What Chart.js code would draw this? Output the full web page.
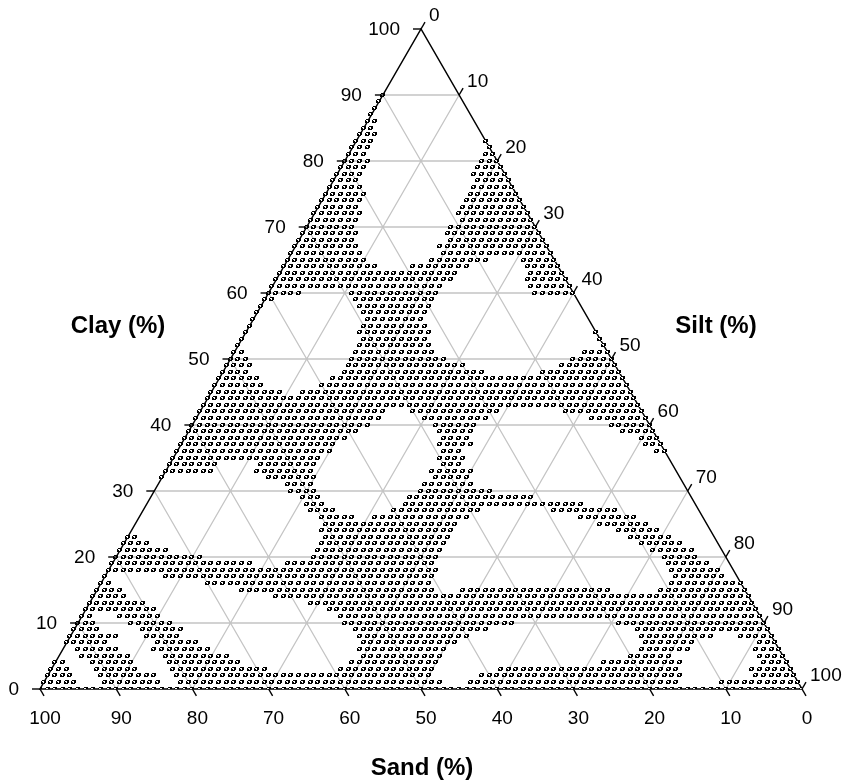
<!DOCTYPE html>
<html>
<head>
<meta charset="utf-8">
<script src="https://cdn.jsdelivr.net/npm/chart.js@4.4.0/dist/chart.umd.min.js"></script>
<style>
  html, body { margin: 0; padding: 0; background: #ffffff; }
  canvas { display: block; }
</style>
</head>
<body>
<canvas id="tern" width="844" height="783"></canvas>
<script>
// Axis tick values (percent) shared by the three ternary axes
const tickValues = [0, 10, 20, 30, 40, 50, 60, 70, 80, 90, 100];

// Axis titles
const clayTitle = 'Clay (%)';
const siltTitle = 'Silt (%)';
const sandTitle = 'Sand (%)';

// Sample compositions on a 1 % grid, stored row by row.
// clayRows[i] is the clay content of the row; siltRuns[i] lists the
// inclusive silt ranges [from, to] occupied in that row (sand = 100 - clay - silt).
const clayRows = [
  0, 1, 2, 3, 4, 5, 6, 7, 8, 9,
  10, 11, 12, 13, 14, 15, 16, 17, 18, 19,
  20, 21, 22, 23, 24, 25, 26, 27, 28, 29,
  30, 31, 32, 33, 34, 35, 36, 37, 38, 39,
  40, 41, 42, 43, 44, 45, 46, 47, 48, 49,
  50, 51, 52, 53, 54, 55, 56, 57, 58, 59,
  60, 61, 62, 63, 64, 65, 66, 67, 68, 69,
  70, 71, 72, 73, 74, 75, 76, 77, 78, 79,
  80, 81, 82, 83, 84, 85, 86, 87, 88, 89, 90
];

const siltRuns = [
  [[0,100]],
  [[0,4],[8,15],[18,52],[56,83],[89,99]],
  [[0,3],[7,14],[17,50],[57,83],[93,98]],
  [[0,2],[6,11],[16,28],[38,50],[59,82],[92,97]],
  [[0,1],[5,10],[15,24],[39,50],[72,82],[93,96]],
  [[3,9],[14,22],[40,50],[75,80],[92,95]],
  [[2,7],[12,19],[39,50],[76,82],[91,94]],
  [[0,5],[12,17],[39,51],[76,82],[91,93]],
  [[0,6],[10,14],[38,52],[75,84],[88,92]],
  [[0,3],[9,14],[37,54],[74,91]],
  [[0,2],[7,12],[35,57],[71,90]],
  [[0,1],[5,10],[34,89]],
  [[0,9],[32,88]],
  [[0,7],[29,87]],
  [[0,4],[24,86]],
  [[0,3],[19,44],[48,67],[74,85]],
  [[0,1],[14,43],[75,84]],
  [[0,0],[8,43],[75,81]],
  [[0,43],[74,80]],
  [[0,18],[23,42],[73,78]],
  [[0,11],[26,42],[72,76]],
  [[0,6],[26,42],[70,75]],
  [[0,3],[26,42],[68,73]],
  [[0,1],[26,42],[66,71]],
  [[25,42],[64,69]],
  [[25,42],[61,67]],
  [[24,28],[31,43],[58,65]],
  [[22,25],[33,44],[54,62]],
  [[21,23],[34,57]],
  [[20,22],[34,50]],
  [[18,21],[35,44]],
  [[17,20],[35,41]],
  [[0,0],[14,20],[36,40]],
  [[0,6],[12,19],[35,40]],
  [[0,6],[12,19],[36,38]],
  [[0,19],[35,38]],
  [[0,20],[35,37],[63,64]],
  [[0,20],[34,38],[61,63]],
  [[0,21],[34,37],[60,62]],
  [[0,22],[33,37],[57,61]],
  [[0,23],[32,37],[55,60]],
  [[0,24],[30,38],[52,59]],
  [[0,24],[28,39],[48,58]],
  [[0,57]],
  [[0,56]],
  [[0,9],[12,55]],
  [[0,6],[14,54]],
  [[0,5],[15,53]],
  [[0,3],[16,34],[42,52]],
  [[0,3],[16,31],[44,51]],
  [[0,2],[16,28],[45,50]],
  [[0,1],[16,26],[46,49]],
  [[0,0],[16,25],[48,48]],
  [[0,0],[16,24],[47,47]],
  [[0,0],[15,24],[46,46]],
  [[0,0],[15,23]],
  [[0,0],[15,22]],
  [[0,0],[14,22]],
  [[0,0],[13,22]],
  [[0,1],[12,22]],
  [[0,4],[11,22],[35,40]],
  [[0,22],[34,39]],
  [[0,23],[33,38]],
  [[0,23],[33,37]],
  [[0,12],[17,24],[32,36]],
  [[0,10],[19,26],[31,35]],
  [[0,9],[20,34]],
  [[0,8],[19,33]],
  [[0,7],[20,32]],
  [[0,7],[19,31]],
  [[0,6],[19,30]],
  [[0,6],[20,29]],
  [[0,6],[19,28]],
  [[0,5],[19,27]],
  [[0,5],[19,26]],
  [[0,5],[19,25]],
  [[0,4],[19,24]],
  [[0,3],[19,23]],
  [[0,3],[18,22]],
  [[0,3],[18,21]],
  [[0,3],[18,20]],
  [[0,2],[18,19]],
  [[0,2],[18,18]],
  [[0,2],[17,17]],
  [[0,2]],
  [[0,1]],
  [[0,1]],
  [[0,0]],
  [[0,0]],
  [[0,0]],
  [[0,0]]
];

// Ternary (silt, clay) -> cartesian plot units; the triangle has side 100.
const H = Math.sqrt(3) / 2;
function toPlane(silt, clay) {
  return { x: silt + clay / 2, y: clay * H };
}

const points = [];
clayRows.forEach((clay, i) => {
  siltRuns[i].forEach(([a, b]) => {
    for (let silt = a; silt <= b; silt++) {
      points.push(toPlane(silt, clay));
    }
  });
});

// Small dark square marker (5 x 4 px) with a slanted notch
function makeMarker() {
  const m = document.createElement('canvas');
  m.width = 6; m.height = 5;
  const g = m.getContext('2d');
  g.fillStyle = '#ffffff';
  g.fillRect(0, 0, 5, 4);
  g.fillStyle = '#000000';
  const px = [
    '.####',
    '#..##',
    '##.##',
    '####.'
  ];
  px.forEach((row, r) => {
    for (let c = 0; c < row.length; c++) {
      if (row[c] === '#') g.fillRect(c, r, 1, 1);
    }
  });
  return m;
}

const ternaryFrame = {
  id: 'ternaryFrame',
  beforeDatasetsDraw(chart) {
    const { ctx, scales: { x, y } } = chart;
    const P = (silt, clay) => {
      const q = toPlane(silt, clay);
      return [x.getPixelForValue(q.x), y.getPixelForValue(q.y)];
    };
    ctx.save();
    // grid lines every 10 %
    ctx.strokeStyle = '#c4c4c4';
    ctx.lineWidth = 1.3;
    ctx.beginPath();
    tickValues.slice(1, -1).forEach(k => {
      let a = P(0, k), b = P(100 - k, k);          // constant clay
      ctx.moveTo(a[0], a[1]); ctx.lineTo(b[0], b[1]);
      a = P(k, 0); b = P(k, 100 - k);              // constant silt
      ctx.moveTo(a[0], a[1]); ctx.lineTo(b[0], b[1]);
      a = P(100 - k, 0); b = P(0, 100 - k);        // constant sand
      ctx.moveTo(a[0], a[1]); ctx.lineTo(b[0], b[1]);
    });
    ctx.stroke();
    // triangle outline
    const A = P(0, 0), B = P(100, 0), C = P(0, 100);
    ctx.strokeStyle = '#000000';
    ctx.lineWidth = 1.5;
    ctx.beginPath();
    ctx.moveTo(A[0], A[1]); ctx.lineTo(B[0], B[1]); ctx.lineTo(C[0], C[1]);
    ctx.closePath();
    ctx.stroke();
    ctx.restore();
    // keep the small markers crisp
    ctx.imageSmoothingEnabled = false;
  },
  afterDatasetsDraw(chart) {
    chart.ctx.imageSmoothingEnabled = true;
  },
  afterDraw(chart) {
    const { ctx, scales: { x, y } } = chart;
    const P = (silt, clay) => {
      const q = toPlane(silt, clay);
      return [x.getPixelForValue(q.x), y.getPixelForValue(q.y)];
    };
    const L = 8;
    ctx.save();
    ctx.strokeStyle = '#000000';
    ctx.fillStyle = '#000000';
    ctx.lineWidth = 1.4;
    ctx.font = '19px "Liberation Sans", Arial, sans-serif';
    tickValues.forEach(k => {
      // clay axis (left side)
      let p = P(0, k);
      ctx.beginPath(); ctx.moveTo(p[0], p[1]); ctx.lineTo(p[0] - L, p[1]); ctx.stroke();
      ctx.textAlign = 'right'; ctx.textBaseline = 'middle';
      ctx.fillText(String(k), p[0] - 21, p[1] + 1);
      // silt axis (right side)
      p = P(k, 100 - k);
      ctx.beginPath(); ctx.moveTo(p[0], p[1]); ctx.lineTo(p[0] + L * 0.5, p[1] - L * H); ctx.stroke();
      ctx.textAlign = 'left'; ctx.textBaseline = 'middle';
      ctx.fillText(String(k), p[0] + 8, p[1] - 13);
      // sand axis (base)
      p = P(100 - k, 0);
      ctx.beginPath(); ctx.moveTo(p[0], p[1]); ctx.lineTo(p[0] + L * 0.5, p[1] + L * H); ctx.stroke();
      ctx.textAlign = 'center'; ctx.textBaseline = 'middle';
      ctx.fillText(String(k), p[0] + 5, p[1] + 30);
    });
    ctx.font = 'bold 24px "Liberation Sans", Arial, sans-serif';
    ctx.textAlign = 'center'; ctx.textBaseline = 'middle';
    ctx.fillText(clayTitle, 118, 326);
    ctx.fillText(siltTitle, 716, 326);
    ctx.fillText(sandTitle, 422, 768);
    ctx.restore();
  }
};

new Chart(document.getElementById('tern'), {
  type: 'scatter',
  data: {
    datasets: [{
      data: points,
      pointStyle: makeMarker(),
      pointRadius: 3,
      showLine: false
    }]
  },
  options: {
    responsive: false,
    animation: false,
    events: [],
    layout: { padding: { left: 40, right: 42, top: 29, bottom: 94 } },
    scales: {
      x: { type: 'linear', min: 0, max: 100, display: false },
      y: { type: 'linear', min: 0, max: 100 * H, display: false }
    },
    plugins: { legend: { display: false }, tooltip: { enabled: false } }
  },
  plugins: [ternaryFrame]
});
</script>
</body>
</html>
